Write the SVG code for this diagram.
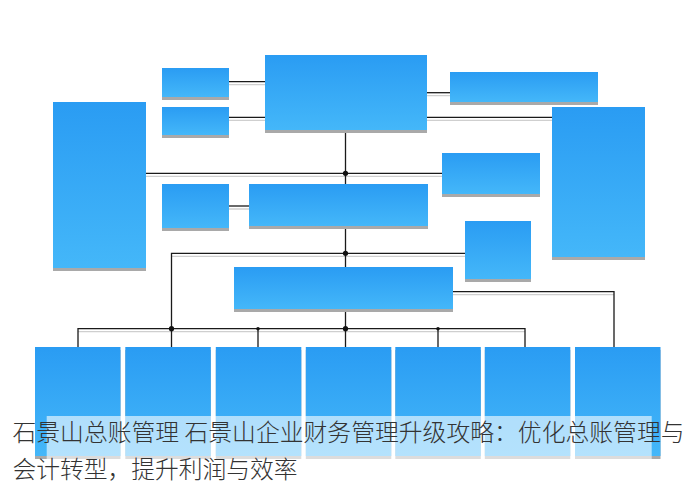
<svg xmlns="http://www.w3.org/2000/svg" width="700" height="488" viewBox="0 0 700 488">
  <defs>
    <linearGradient id="boxGrad" x1="0" y1="0" x2="0" y2="1">
      <stop offset="0" stop-color="#2a9cf3"/>
      <stop offset="1" stop-color="#44b7f9"/>
    </linearGradient>
  </defs>
  <style>
    .box { fill: url(#boxGrad); }
    .shadow { fill: #a9a9a9; }
    .ln { stroke: #1a1a1a; stroke-width: 1.3; fill: none; }
    .lns { stroke: #cfcfcf; stroke-width: 1.3; fill: none; }
    .dot { fill: #111; }
    .cap { font-family: "Noto Sans CJK SC", "Noto Sans", sans-serif; font-size: 23.8px; font-weight: 300; fill: #333; }
  </style>
  <rect width="700" height="488" fill="#ffffff"/>

  <g id="connectors">
    <path class="lns" d="M229 84.7H265 M229 120.3H265 M427 95.7H450 M427 120.3H552 M146 176.3H442 M229 209H249 M172 256.3H465 M78 331.7H525 M453 294.7H614"/>
    <path class="ln" d="M229 81.7H265"/>
    <path class="ln" d="M229 117.3H265"/>
    <path class="ln" d="M427 92.7H450"/>
    <path class="ln" d="M427 117.3H552"/>
    <path class="ln" d="M345.5 130V184"/>
    <path class="ln" d="M146 173.3H442"/>
    <path class="ln" d="M229 206H249"/>
    <path class="ln" d="M345.5 226V267"/>
    <path class="ln" d="M171.5 347V253.3H465"/>
    <path class="ln" d="M345.5 309V347"/>
    <path class="ln" d="M78 347V328.7H525V347"/>
    <path class="ln" d="M258 328.7V347"/>
    <path class="ln" d="M438 328.7V347"/>
    <path class="ln" d="M453 291.7H614V347"/>
    <circle class="dot" cx="345.5" cy="173.3" r="2.6"/>
    <circle class="dot" cx="345.5" cy="253.3" r="2.6"/>
    <circle class="dot" cx="171.5" cy="328.7" r="2.6"/>
    <circle class="dot" cx="345.5" cy="328.7" r="2.6"/>
    <circle class="dot" cx="258" cy="328.7" r="1.8"/>
    <circle class="dot" cx="438" cy="328.7" r="1.8"/>
  </g>

  <g id="n-top">
    <rect class="shadow" x="265" y="58" width="162" height="75"/>
    <rect class="box" x="265" y="55" width="162" height="75"/>
  </g>
  <g id="n-small1">
    <rect class="shadow" x="162" y="71" width="67" height="29"/>
    <rect class="box" x="162" y="68" width="67" height="29"/>
  </g>
  <g id="n-small2">
    <rect class="shadow" x="162" y="110" width="67" height="28"/>
    <rect class="box" x="162" y="107" width="67" height="28"/>
  </g>
  <g id="n-topright">
    <rect class="shadow" x="450" y="75" width="148" height="30"/>
    <rect class="box" x="450" y="72" width="148" height="30"/>
  </g>
  <g id="n-righttall">
    <rect class="shadow" x="552" y="110" width="93" height="150"/>
    <rect class="box" x="552" y="107" width="93" height="150"/>
  </g>
  <g id="n-lefttall">
    <rect class="shadow" x="53" y="105" width="93" height="166"/>
    <rect class="box" x="53" y="102" width="93" height="166"/>
  </g>
  <g id="n-rightmid">
    <rect class="shadow" x="442" y="156" width="98" height="41"/>
    <rect class="box" x="442" y="153" width="98" height="41"/>
  </g>
  <g id="n-small3">
    <rect class="shadow" x="162" y="187" width="67" height="44"/>
    <rect class="box" x="162" y="184" width="67" height="44"/>
  </g>
  <g id="n-mid">
    <rect class="shadow" x="249" y="187" width="179" height="42"/>
    <rect class="box" x="249" y="184" width="179" height="42"/>
  </g>
  <g id="n-smallright">
    <rect class="shadow" x="465" y="224" width="66" height="58"/>
    <rect class="box" x="465" y="221" width="66" height="58"/>
  </g>
  <g id="n-lowermid">
    <rect class="shadow" x="234" y="270" width="219" height="42"/>
    <rect class="box" x="234" y="267" width="219" height="42"/>
  </g>

  <g id="n-b1"><rect class="shadow" x="35" y="350" width="85.5" height="109"/><rect class="box" x="35" y="347" width="85.5" height="109"/></g>
  <g id="n-b2"><rect class="shadow" x="125.3" y="350" width="85.5" height="109"/><rect class="box" x="125.3" y="347" width="85.5" height="109"/></g>
  <g id="n-b3"><rect class="shadow" x="215.8" y="350" width="85.5" height="109"/><rect class="box" x="215.8" y="347" width="85.5" height="109"/></g>
  <g id="n-b4"><rect class="shadow" x="305.8" y="350" width="85.5" height="109"/><rect class="box" x="305.8" y="347" width="85.5" height="109"/></g>
  <g id="n-b5"><rect class="shadow" x="395.3" y="350" width="85.5" height="109"/><rect class="box" x="395.3" y="347" width="85.5" height="109"/></g>
  <g id="n-b6"><rect class="shadow" x="484.8" y="350" width="85.5" height="109"/><rect class="box" x="484.8" y="347" width="85.5" height="109"/></g>
  <g id="n-b7"><rect class="shadow" x="575" y="350" width="85.5" height="109"/><rect class="box" x="575" y="347" width="85.5" height="109"/></g>

  <g id="caption">
    <rect x="46.7" y="416" width="605" height="43" fill="#ffffff" fill-opacity="0.6"/>
    <text class="cap" x="12.5" y="441" textLength="672" lengthAdjust="spacing">石景山总账管理 石景山企业财务管理升级攻略：优化总账管理与</text>
    <text class="cap" x="12.5" y="478" textLength="285" lengthAdjust="spacing">会计转型，提升利润与效率</text>
  </g>
</svg>
